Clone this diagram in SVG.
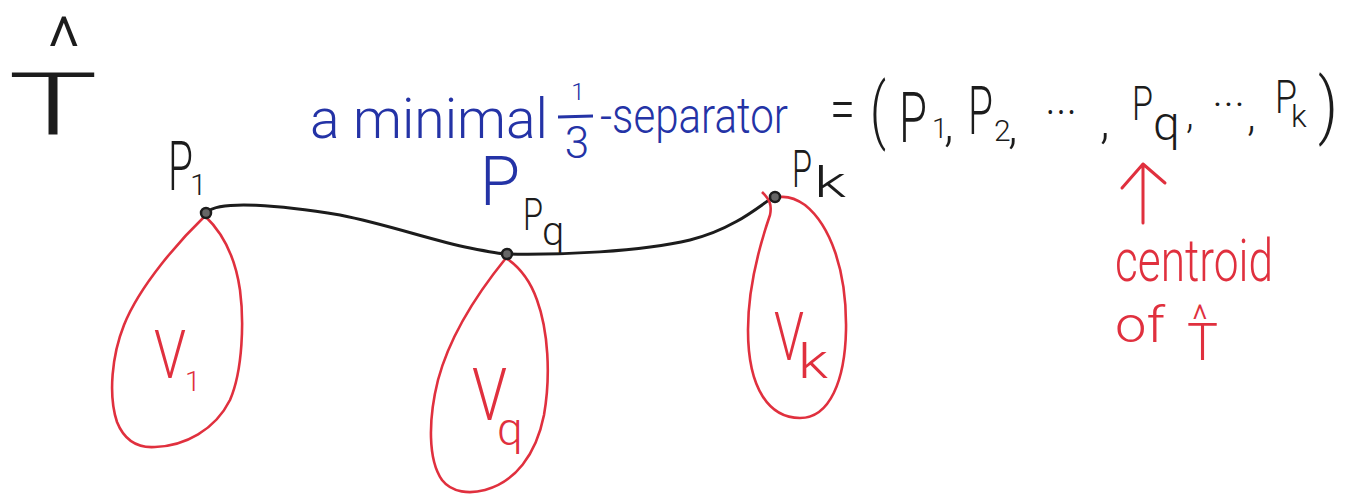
<svg xmlns="http://www.w3.org/2000/svg" width="1363" height="495" viewBox="0 0 1363 495">
<style>
text{font-family:Roboto,"Liberation Sans",sans-serif;font-weight:300}
.k{fill:#1c1c1c}
.b{fill:#2433a6}
.r{fill:#e0303e}
.loop{fill:none;stroke:#e0303e;stroke-width:2.6}
.edge{fill:none;stroke:#1c1c1c;stroke-width:3}
.node{fill:#666;stroke:#1c1c1c;stroke-width:2.5}
</style>
<rect width="1363" height="495" fill="#ffffff"/>

<g id="T-hat">
<text class="k" x="47" y="76" font-size="84" textLength="34" lengthAdjust="spacingAndGlyphs">^</text>
<text class="k" x="8" y="135" font-size="88" font-weight="100" textLength="90" lengthAdjust="spacingAndGlyphs">T</text>
</g>

<g id="separator-label">
<text class="b" x="310" y="138" font-size="56" textLength="238" lengthAdjust="spacingAndGlyphs">a minimal</text>
<text class="b" x="578" y="100" font-size="24" text-anchor="middle">1</text>
<line x1="558" y1="117" x2="593" y2="116" stroke="#2433a6" stroke-width="3"/>
<text class="b" x="577" y="158" font-size="44" text-anchor="middle">3</text>
<text class="b" x="600" y="133" font-size="50" textLength="188" lengthAdjust="spacingAndGlyphs">-separator</text>
</g>

<g id="tuple">
<text class="k" x="830" y="129" font-size="60" textLength="25" lengthAdjust="spacingAndGlyphs">=</text>
<text class="k" x="870" y="135" font-size="72" textLength="16" lengthAdjust="spacingAndGlyphs">(</text>
<text class="k" x="899" y="142" font-size="70" textLength="28" lengthAdjust="spacingAndGlyphs">P</text>
<text class="k" x="932" y="138" font-size="28">1</text>
<text class="k" x="944" y="141" font-size="50">,</text>
<text class="k" x="968" y="134" font-size="66" textLength="25" lengthAdjust="spacingAndGlyphs">P</text>
<text class="k" x="994" y="141" font-size="30">2</text>
<text class="k" x="1008" y="143" font-size="50">,</text>
<text class="k" x="1045" y="130" font-size="50" textLength="32" lengthAdjust="spacingAndGlyphs">···</text>
<text class="k" x="1100" y="138" font-size="50">,</text>
<text class="k" x="1132" y="120" font-size="48" textLength="21" lengthAdjust="spacingAndGlyphs">P</text>
<text class="k" x="1153" y="140" font-size="48">q</text>
<text class="k" x="1186" y="128" font-size="40">,</text>
<text class="k" x="1212" y="120" font-size="44" textLength="33" lengthAdjust="spacingAndGlyphs">···</text>
<text class="k" x="1247" y="130" font-size="45">,</text>
<text class="k" x="1275" y="113" font-size="46" textLength="22" lengthAdjust="spacingAndGlyphs">P</text>
<text class="k" x="1291" y="127" font-size="32">k</text>
<text class="k" x="1318" y="130" font-size="72" textLength="20" lengthAdjust="spacingAndGlyphs">)</text>
</g>

<g id="connectors">
<path class="edge" d="M207,212 C220,200 280,205 340,215 C390,225 430,240 470,248 C490,252 500,254 507,254 C560,255 640,252 690,240 C730,230 755,210 773,197"/>
</g>

<g id="path-P-label">
<text class="b" x="480" y="205" font-size="68" textLength="40" lengthAdjust="spacingAndGlyphs">P</text>
</g>

<g id="node-p1">
<path class="loop" d="M205,216 C180,240 140,285 124,325 C112,355 108,395 117,422 C125,442 140,448 155,447 C185,446 215,430 230,400 C243,370 244,320 240,290 C236,262 225,235 205,216 Z"/>
<circle class="node" cx="206" cy="213" r="5"/>
<text class="k" x="168" y="190" font-size="68" textLength="25" lengthAdjust="spacingAndGlyphs">P</text>
<text class="k" x="190" y="195" font-size="30">1</text>
<text class="r" x="154" y="378" font-size="66" textLength="32" lengthAdjust="spacingAndGlyphs">V</text>
<text class="r" x="185" y="391" font-size="28">1</text>
</g>

<g id="node-pq">
<path class="loop" d="M506,258 C480,290 450,335 438,380 C428,420 428,460 442,480 C452,493 470,494 485,490 C515,482 536,455 544,415 C551,375 548,330 537,300 C530,280 518,266 506,258 Z"/>
<circle class="node" cx="507" cy="254" r="5"/>
<text class="k" x="523" y="230" font-size="44" textLength="20" lengthAdjust="spacingAndGlyphs">P</text>
<text class="k" x="542" y="245" font-size="40">q</text>
<text class="r" x="472" y="420" font-size="72" textLength="35" lengthAdjust="spacingAndGlyphs">V</text>
<text class="r" x="497" y="445" font-size="46">q</text>
</g>

<g id="node-pk">
<path class="loop" d="M762,192 C770,200 772,205 770,215 C758,250 748,290 748,330 C748,390 770,418 800,418 C830,418 845,380 846,330 C847,270 830,225 805,205 C795,198 785,195 775,198"/>
<circle class="node" cx="775" cy="197" r="5"/>
<text class="k" x="792" y="187" font-size="52" textLength="20" lengthAdjust="spacingAndGlyphs">P</text>
<text class="k" x="814" y="197" font-size="42" textLength="32" lengthAdjust="spacingAndGlyphs">k</text>
<text class="r" x="774" y="360" font-size="66" textLength="30" lengthAdjust="spacingAndGlyphs">V</text>
<text class="r" x="798" y="378" font-size="48" textLength="30" lengthAdjust="spacingAndGlyphs">k</text>
</g>

<g id="centroid-note">
<path d="M1143,223 L1143,164 M1122,188 L1143,164 L1165,183" fill="none" stroke="#e0303e" stroke-width="3" stroke-linecap="round" stroke-linejoin="round"/>
<text class="r" x="1115" y="281" font-size="60" textLength="158" lengthAdjust="spacingAndGlyphs">centroid</text>
<text class="r" x="1115" y="342" font-size="50" textLength="50" lengthAdjust="spacingAndGlyphs">of</text>
<text class="r" x="1192" y="334" font-size="40" textLength="16" lengthAdjust="spacingAndGlyphs">^</text>
<text class="r" x="1187" y="360" font-size="52" textLength="31" lengthAdjust="spacingAndGlyphs">T</text>
</g>
</svg>
